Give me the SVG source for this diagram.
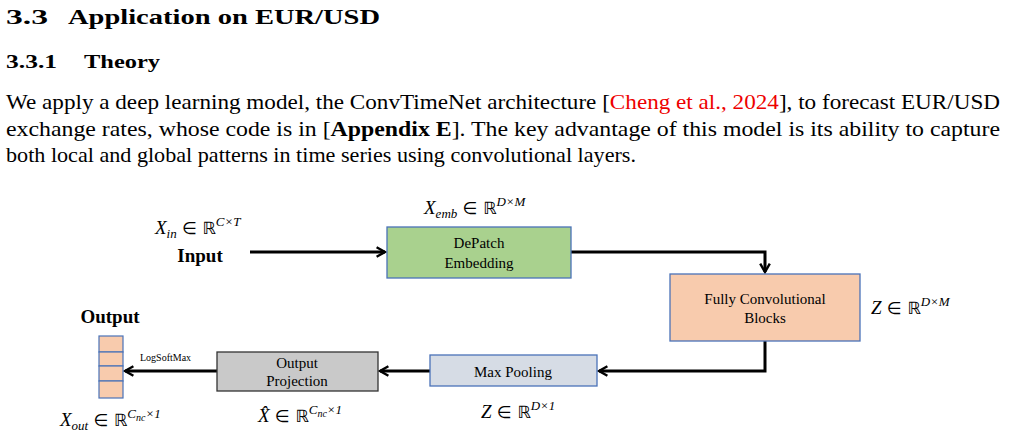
<svg xmlns="http://www.w3.org/2000/svg" width="1009" height="436" viewBox="0 0 1009 436">
<defs>
<style>
.h{font-family:"Liberation Serif",serif;font-weight:bold;fill:#000}
.p{font-family:"Liberation Serif",serif;font-size:21px;fill:#000}
.b{font-family:"Liberation Serif",serif;font-size:15px;fill:#000;text-anchor:middle}
.m{font-family:"Liberation Serif","DejaVu Serif",serif;font-size:19px;font-style:italic;fill:#000}
.m tspan.r{font-style:normal;font-family:"DejaVu Sans",sans-serif;font-size:17px}
.box{stroke:#4a72b8;stroke-width:1.3}
.ln{fill:none;stroke:#000;stroke-width:3}
</style>
<marker id="a" viewBox="0 0 10 10" refX="8" refY="5" markerWidth="4" markerHeight="4" orient="auto"><path d="M1,1 L8,5 L1,9" fill="none" stroke="#000" stroke-width="2"/></marker>
</defs>
<rect width="1009" height="436" fill="#fff"/>
<text class="h" x="6" y="24" font-size="22" textLength="42" lengthAdjust="spacingAndGlyphs">3.3</text>
<text class="h" x="68" y="24" font-size="22" textLength="312" lengthAdjust="spacingAndGlyphs">Application on EUR/USD</text>
<text class="h" x="6" y="68" font-size="19" textLength="51" lengthAdjust="spacingAndGlyphs">3.3.1</text>
<text class="h" x="84" y="68" font-size="19" textLength="76" lengthAdjust="spacingAndGlyphs">Theory</text>
<text class="p" x="6" y="109" textLength="994" lengthAdjust="spacingAndGlyphs">We apply a deep learning model, the ConvTimeNet architecture [<tspan fill="#e00">Cheng et al., 2024</tspan>], to forecast EUR/USD</text>
<text class="p" x="6" y="136" textLength="994" lengthAdjust="spacingAndGlyphs">exchange rates, whose code is in [<tspan font-weight="bold">Appendix E</tspan>]. The key advantage of this model is its ability to capture</text>
<text class="p" x="6" y="162" textLength="630" lengthAdjust="spacingAndGlyphs">both local and global patterns in time series using convolutional layers.</text>

<g id="connectors">
<path class="ln" d="M250,252 H385" marker-end="url(#a)"/>
<path class="ln" d="M571,252 H765 V272" marker-end="url(#a)"/>
<path class="ln" d="M765,341 V371 H599" marker-end="url(#a)"/>
<path class="ln" d="M430,371 H380" marker-end="url(#a)"/>
<path class="ln" d="M217,371 H125" marker-end="url(#a)"/>
</g>
<g id="input"><text class="h" x="200" y="262" font-size="19" text-anchor="middle">Input</text>
<text class="m" x="155" y="234">X<tspan font-size="13" dy="4">in</tspan><tspan dy="-4" class="r"> ∈ ℝ</tspan><tspan font-size="13" dy="-8">C×T</tspan></text></g>
<g id="depatch"><rect class="box" x="387" y="227" width="184" height="51" fill="#a9d18e"/>
<text class="b" x="479" y="248">DePatch</text><text class="b" x="479" y="268">Embedding</text>
<text class="m" x="424" y="214">X<tspan font-size="13" dy="4">emb</tspan><tspan dy="-4" class="r"> ∈ ℝ</tspan><tspan font-size="13" dy="-8">D×M</tspan></text></g>
<g id="fcb"><rect class="box" x="670" y="274" width="190" height="67" fill="#f8cbad"/>
<text class="b" x="765" y="304">Fully Convolutional</text><text class="b" x="765" y="323">Blocks</text>
<text class="m" x="871" y="314">Z<tspan class="r"> ∈ ℝ</tspan><tspan font-size="13" dy="-8">D×M</tspan></text></g>
<g id="maxpool"><rect class="box" x="430" y="355" width="167" height="31" fill="#d6dce5"/>
<text class="b" x="513" y="377">Max Pooling</text>
<text class="m" x="481" y="418">Z<tspan class="r"> ∈ ℝ</tspan><tspan font-size="13" dy="-8">D×1</tspan></text></g>
<g id="proj"><rect x="217" y="352" width="161" height="39" fill="#c9c9c9" stroke="#333" stroke-width="1.3"/>
<text class="b" x="297" y="368">Output</text><text class="b" x="297" y="386">Projection</text>
<text class="m" x="258" y="422">X̂<tspan class="r"> ∈ ℝ</tspan><tspan font-size="13" dy="-8">C</tspan><tspan font-size="10" dy="3">nc</tspan><tspan font-size="13" dy="-3">×1</tspan></text></g>
<g id="output"><text class="h" x="110" y="323" font-size="19" text-anchor="middle">Output</text>
<g fill="#f8cbad" stroke="#4a72b8" stroke-width="1.2">
<rect x="99" y="336" width="24" height="16"/><rect x="99" y="352" width="24" height="14"/><rect x="99" y="366" width="24" height="15"/><rect x="99" y="381" width="24" height="17"/></g>
<text font-family="Liberation Serif,serif" font-size="10" x="140" y="361">LogSoftMax</text>
<text class="m" x="60" y="426">X<tspan font-size="13" dy="4">out</tspan><tspan dy="-4" class="r"> ∈ ℝ</tspan><tspan font-size="13" dy="-8">C</tspan><tspan font-size="10" dy="3">nc</tspan><tspan font-size="13" dy="-3">×1</tspan></text></g>
</svg>
